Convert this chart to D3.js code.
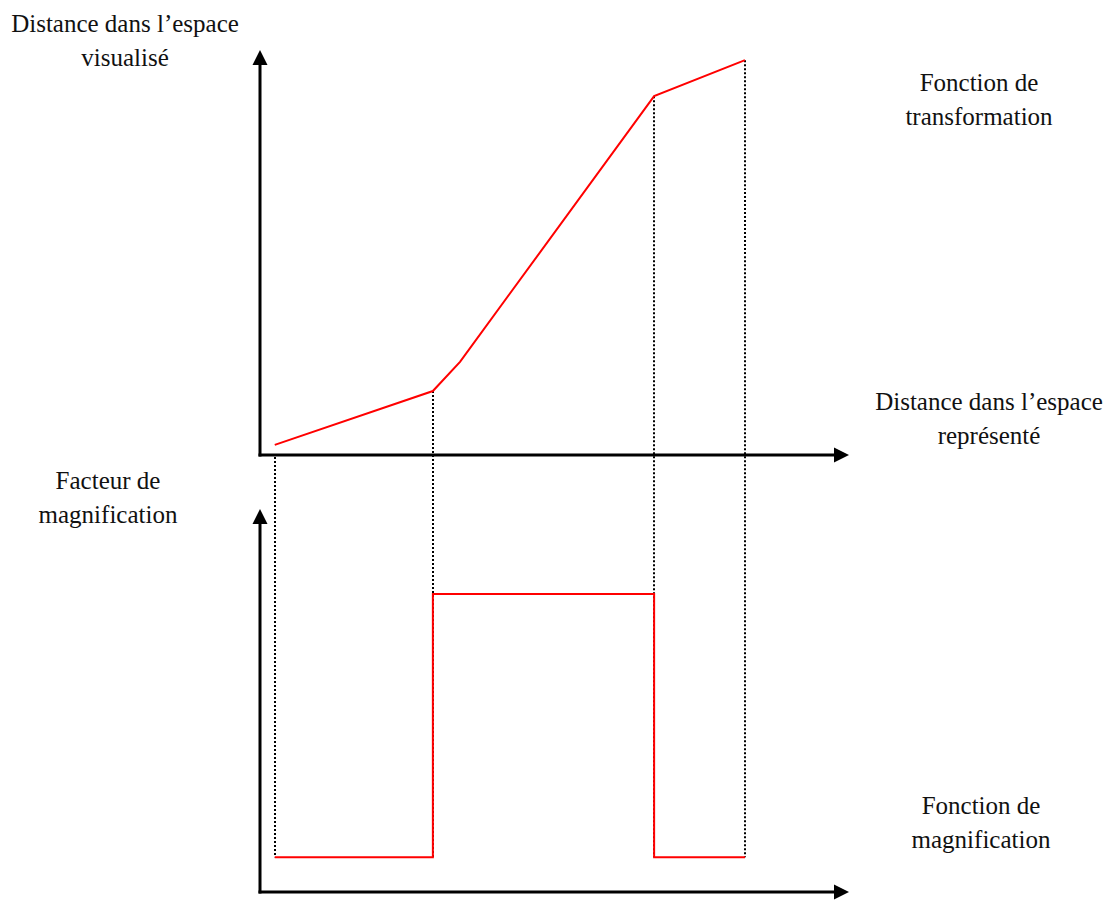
<!DOCTYPE html>
<html>
<head>
<meta charset="utf-8">
<script src="https://cdn.jsdelivr.net/npm/d3@7"></script>
<style>
  body { margin: 0; background: #fff; }
  text { font-family: "Liberation Serif", "DejaVu Serif", serif; font-size: 25px; fill: #111; }
</style>
</head>
<body>
<svg id="chart" width="1110" height="900"></svg>
<script>
'use strict'

// transformation function (top panel), abstract units 0..100
const transformX = [2.5, 29.3, 33.9, 66.8, 82.2];
const transformY = [2.5, 15.8, 23.0, 88.6, 97.5];

// magnification function (bottom panel), steps
const magX = [2.5, 29.3, 66.8, 82.2];
const magY = [9.1, 77.8, 9.1, 9.1];

// vertical guides: index into transformX, first one starts at axis
const guideIdx = [0, 1, 3, 4];

const labels = [
    { lines: ["Distance dans l\u2019espace", "visualisé"], x: 125, y: 32 },
    { lines: ["Fonction de", "transformation"], x: 979, y: 91 },
    { lines: ["Distance dans l\u2019espace", "représenté"], x: 989, y: 410 },
    { lines: ["Facteur de", "magnification"], x: 108, y: 489 },
    { lines: ["Fonction de", "magnification"], x: 981, y: 814 }
];

const svg = d3.select('#chart');

var x = d3.scaleLinear().domain([0, 100]).range([260, 850]);
var yTop = d3.scaleLinear().domain([0, 100]).range([455, 50]);
var yBot = d3.scaleLinear().domain([0, 100]).range([892, 509]);

// dotted guides first so the red lines sit on top
guideIdx.forEach(function(i, k){
    var gx = Math.round(x(transformX[i]));
    svg.append('line')
        .attr('x1', gx)
        .attr('x2', gx)
        .attr('y1', k == 0 ? yTop(0) + 2 : yTop(transformY[i]))
        .attr('y2', yBot(magY[0]))
        .attr('stroke', '#000')
        .attr('stroke-width', 2)
        .attr('stroke-dasharray', '2,2');
});

function drawAxes(y){
    var g = svg.append('g');
    var x0 = x(0), y0 = y(0);
    var yEnd = y(100), xEnd = x(100) - 1;
    // vertical
    g.append('line').attr('x1', x0).attr('x2', x0).attr('y1', y0 + 1.5).attr('y2', yEnd + 10)
        .attr('stroke', '#000').attr('stroke-width', 3);
    g.append('path')
        .attr('d', 'M' + x0 + ',' + yEnd + 'L' + (x0 - 7.5) + ',' + (yEnd + 15) + 'L' + (x0 + 7.5) + ',' + (yEnd + 15) + 'Z')
        .attr('fill', '#000');
    // horizontal
    g.append('line').attr('x1', x0 - 1.5).attr('x2', xEnd - 10).attr('y1', y0).attr('y2', y0)
        .attr('stroke', '#000').attr('stroke-width', 3);
    g.append('path')
        .attr('d', 'M' + xEnd + ',' + y0 + 'L' + (xEnd - 15) + ',' + (y0 - 7.5) + 'L' + (xEnd - 15) + ',' + (y0 + 7.5) + 'Z')
        .attr('fill', '#000');
}

drawAxes(yTop);
drawAxes(yBot);

var topLine = d3.line()
    .x(function(d){ return x(d[0]); })
    .y(function(d){ return yTop(d[1]); });

svg.append('path')
    .datum(d3.zip(transformX, transformY))
    .attr('d', topLine)
    .attr('fill', 'none')
    .attr('stroke', '#ff0000')
    .attr('stroke-width', 2);

var stepLine = d3.line()
    .x(function(d){ return x(d[0]); })
    .y(function(d){ return yBot(d[1]); })
    .curve(d3.curveStepAfter);

svg.append('path')
    .datum(d3.zip(magX, magY))
    .attr('d', stepLine)
    .attr('fill', 'none')
    .attr('stroke', '#ff0000')
    .attr('stroke-width', 2);

labels.forEach(function(l){
    var t = svg.append('text')
        .attr('text-anchor', 'middle')
        .attr('x', l.x)
        .attr('y', l.y);
    l.lines.forEach(function(s, i){
        t.append('tspan').attr('x', l.x).attr('dy', i == 0 ? 0 : 33.5).text(s);
    });
});
</script>
</body>
</html>
